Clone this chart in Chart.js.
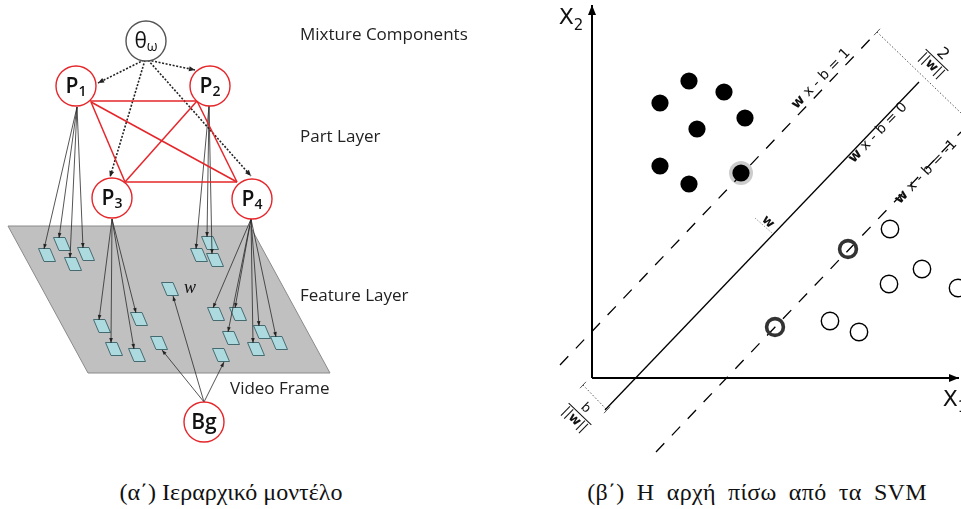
<!DOCTYPE html>
<html>
<head>
<meta charset="utf-8">
<script src="https://cdn.jsdelivr.net/npm/chart.js@4.4.1/dist/chart.umd.min.js"></script>
<style>
  html, body { margin: 0; padding: 0; background: #fff; width: 961px; height: 509px; overflow: hidden; }
  canvas { position: absolute; top: 0; }
  #model { left: 0; }
  #svm { left: 480px; }
  .cap { position: absolute; top: 477px; transform: translateX(-50%); font-family: "Liberation Serif", serif;
         font-size: 24px; color: #111; white-space: nowrap; line-height: 30px; }
</style>
</head>
<body>
<canvas id="model" width="480" height="460"></canvas>
<canvas id="svm" width="481" height="460"></canvas>
<div class="cap" style="left:231px">(α΄) Ιεραρχικό μοντέλο</div>
<div class="cap" style="left:757px; word-spacing:6px; letter-spacing:0.3px">(β΄) Η αρχή πίσω από τα SVM</div>
<script>
// ---------- hierarchical model (layout units on a 480 x 460 board) ----------
const nodeMain = ['θ', 'P', 'P', 'P', 'P', 'Bg'];
const nodeSub  = ['ω', '1', '2', '3', '4', ''];
const nodeX = [146, 76, 210, 112, 252, 204];
const nodeY = [41, 86, 86, 198, 199, 422];
const nodeRing = ['#555555', '#e5262a', '#e5262a', '#e5262a', '#e5262a', '#e5262a'];

// mixture component -> parts (dotted arrows): [x0, y0, x1, y1]
const mixtureArrows = [[144, 60, 98, 83], [148, 60, 195, 70], [145, 60, 110, 177], [148, 60, 251, 176]];
// pairwise part connections (red)
const partLinks = [[90, 101, 197, 101], [91, 102, 125, 182], [91, 102, 237, 182],
                   [197, 101, 125, 182], [197, 101, 237, 182], [125, 182, 237, 182]];

// video frame plane
const frameX = [8, 250, 330, 88, 8];
const frameY = [226, 226, 373, 373, 226];

// feature cells on the frame (centres)
const featX = [47, 62, 73, 86, 199, 210, 215, 170, 102, 139, 114, 137, 159, 216, 238, 231, 262, 279, 256, 221];
const featY = [255, 244, 264, 254, 255, 243, 260, 289, 326, 319, 349, 355, 343, 314, 314, 338, 332, 343, 349, 355];

// which feature cells each source points to, and where the arrows leave the source
const featureSources = [
  { from: [77, 107],  cells: [0, 1, 2, 3],             side: 'top' },
  { from: [209, 106], cells: [4, 5, 6],                side: 'top' },
  { from: [112, 219], cells: [8, 9, 10, 11],           side: 'top' },
  { from: [251, 219], cells: [13, 14, 15, 17, 16, 18], side: 'top' },
  { from: [204, 402], cells: [7, 12, 19],              side: 'bottom' }
];

const layerNames = ['Mixture Components', 'Part Layer', 'Feature Layer', 'Video Frame'];
const layerPos = [[300, 35], [300, 137], [300, 296], [230, 389]];

// ---------- SVM picture (feature space, origin at the axes corner) ----------
const classAX = [4.85, 6.6, 3.4, 7.65, 5.25, 3.4, 4.85];
const classAY = [14.85, 14.3, 13.75, 13.0, 12.45, 10.6, 9.7];
const supportAX = [7.45];
const supportAY = [10.25];
const classBX = [14.9, 16.5, 14.85, 18.3, 11.9, 13.35];
const classBY = [7.45, 5.45, 4.7, 4.5, 2.85, 2.3];
const supportBX = [12.8, 9.15];
const supportBY = [6.45, 2.55];

// hyperplane w·x − b = c, segment ends for c = 1, 0, −1
const planePlusX = [-1.6, 14.25];  const planePlusY = [0.65, 17.3];
const planeZeroX = [0.65, 16.35];  const planeZeroY = [-1.6, 14.8];
const planeMinusX = [3.2, 18.45];  const planeMinusY = [-3.7, 12.3];

// margin / offset dimension lines
const marginDimX = [14.25, 18.45]; const marginDimY = [17.3, 13.25];
const biasDimX = [-0.45, 0.75];    const biasDimY = [-0.35, -1.6];
const normalTickX = [8.15, 9.0];   const normalTickY = [8.0, 7.25];

const xAxisEnd = 18.35;
const yAxisEnd = 18.65;

// ---------- helpers ----------
const pts = (xs, ys) => xs.map((x, i) => ({ x, y: ys[i] }));

function featureCell() {
  const c = document.createElement('canvas');
  c.width = 20; c.height = 16;
  const g = c.getContext('2d');
  g.beginPath();
  g.moveTo(1.5, 1.5); g.lineTo(13, 1.5); g.lineTo(18.5, 14.5); g.lineTo(7, 14.5); g.closePath();
  g.fillStyle = '#acdadf'; g.fill();
  g.strokeStyle = '#456a70'; g.lineWidth = 1; g.stroke();
  return c;
}

const arrowHeads = {
  id: 'arrowHeads',
  afterDatasetsDraw(chart) {
    const ctx = chart.ctx;
    chart.data.datasets.forEach((ds, i) => {
      if (!ds.arrow) return;
      const el = chart.getDatasetMeta(i).data;
      const a = el[el.length - 2], b = el[el.length - 1];
      const ang = Math.atan2(b.y - a.y, b.x - a.x);
      ctx.save();
      ctx.translate(b.x, b.y); ctx.rotate(ang);
      ctx.beginPath();
      ctx.moveTo(0, 0); ctx.lineTo(-ds.arrow.len, ds.arrow.wid / 2); ctx.lineTo(-ds.arrow.len, -ds.arrow.wid / 2);
      ctx.closePath();
      ctx.fillStyle = ds.arrow.color; ctx.fill();
      ctx.restore();
    });
  }
};

function runsWidth(ctx, runs) {
  let w = 0;
  runs.forEach(r => { ctx.font = r.font; r.w = ctx.measureText(r.t).width; w += r.w; });
  return w;
}
function drawRuns(ctx, runs, x, y, align) {
  const total = runsWidth(ctx, runs);
  let cx = align === 'left' ? x : x - total / 2;
  runs.forEach(r => { ctx.font = r.font; ctx.fillText(r.t, cx, y + (r.dy || 0)); cx += r.w; });
}

function textLayer(labels) {
  return {
    id: 'textLayer',
    afterDatasetsDraw(chart) {
      const ctx = chart.ctx, sx = chart.scales.x, sy = chart.scales.y;
      labels.forEach(l => {
        ctx.save();
        ctx.translate(sx.getPixelForValue(l.x), sy.getPixelForValue(l.y));
        ctx.rotate((l.rot || 0) * Math.PI / 180);
        ctx.fillStyle = l.color || '#111';
        ctx.textBaseline = 'middle'; ctx.textAlign = 'left';
        if (l.frac) {
          const wn = runsWidth(ctx, l.frac.num), wd = runsWidth(ctx, l.frac.den);
          const half = Math.max(wn, wd) / 2 + 1;
          drawRuns(ctx, l.frac.num, 0, -8, 'center');
          drawRuns(ctx, l.frac.den, 0, 8, 'center');
          ctx.beginPath(); ctx.moveTo(-half, 0); ctx.lineTo(half, 0);
          ctx.strokeStyle = l.color || '#111'; ctx.lineWidth = 1; ctx.stroke();
        } else {
          drawRuns(ctx, l.runs, 0, 0, l.align);
        }
        ctx.restore();
      });
    }
  };
}

const hidden = { type: 'linear', display: false };
const baseOptions = (xmin, xmax, ymin, ymax, yRev) => ({
  responsive: false, animation: false, devicePixelRatio: 1, events: [],
  layout: { padding: 0, autoPadding: false },
  plugins: { legend: { display: false }, tooltip: { enabled: false } },
  scales: {
    x: { ...hidden, min: xmin, max: xmax },
    y: { ...hidden, min: ymin, max: ymax, reverse: yRev }
  }
});

function segment(x0, y0, x1, y1, style) {
  return Object.assign({
    type: 'line', data: [{ x: x0, y: y0 }, { x: x1, y: y1 }],
    showLine: true, pointRadius: 0, tension: 0, fill: false, clip: false
  }, style);
}

// ---------- model chart ----------
const modelSets = [];
modelSets.push({
  type: 'line', data: pts(frameX, frameY), showLine: true, fill: 'shape',
  backgroundColor: '#c0c0c0', borderColor: '#8a8a8a', borderWidth: 1, pointRadius: 0, tension: 0, order: 30, clip: false
});
modelSets.push({
  type: 'line', data: pts(featX, featY), showLine: false, pointStyle: featureCell(),
  pointRadius: 8, order: 25, clip: false
});
featureSources.forEach(src => {
  src.cells.forEach(k => {
    const tx = src.side === 'top' ? featX[k] - 3 : featX[k] + 3;
    const ty = src.side === 'top' ? featY[k] - 6 : featY[k] + 7;
    modelSets.push(segment(src.from[0], src.from[1], tx, ty, {
      borderColor: '#2a2a2a', borderWidth: 0.8, order: 20, arrow: { len: 5, wid: 3.6, color: '#222' }
    }));
  });
});
mixtureArrows.forEach(a => modelSets.push(segment(a[0], a[1], a[2], a[3], {
  borderColor: '#222', borderWidth: 1.6, borderDash: [2, 1.6], order: 20, arrow: { len: 6, wid: 5, color: '#222' }
})));
partLinks.forEach(a => modelSets.push(segment(a[0], a[1], a[2], a[3], {
  borderColor: '#e5262a', borderWidth: 1.5, order: 15
})));
modelSets.push({
  type: 'line', data: pts(nodeX, nodeY), showLine: false, pointRadius: 20, pointStyle: 'circle',
  backgroundColor: '#ffffff', borderColor: nodeRing, borderWidth: 1.4, order: 1, clip: false
});

const modelLabels = [];
nodeMain.forEach((m, i) => {
  const bold = i > 0 ? '600 ' : '';
  const runs = [{ t: m, font: bold + '21px "Open Sans"' }];
  if (nodeSub[i]) runs.push({ t: nodeSub[i], font: bold + '14px "Open Sans"', dy: 5 });
  modelLabels.push({ x: nodeX[i], y: nodeY[i] + 1, runs, color: '#111' });
});
layerNames.forEach((t, i) => modelLabels.push({
  x: layerPos[i][0], y: layerPos[i][1], runs: [{ t, font: '17px "Open Sans"' }], align: 'left', color: '#222'
}));
modelLabels.push({ x: 190, y: 288, runs: [{ t: 'w', font: 'italic 18px "Liberation Serif"' }], color: '#111' });

new Chart(document.getElementById('model'), {
  type: 'line',
  data: { datasets: modelSets },
  options: baseOptions(0, 480, 0, 460, true),
  plugins: [arrowHeads, textLayer(modelLabels)]
});

// ---------- SVM chart ----------
const svmSets = [];
const axisStyle = { borderColor: '#000', borderWidth: 2, order: 20, arrow: { len: 10, wid: 8, color: '#000' } };
svmSets.push(segment(0, 0, 0, yAxisEnd, axisStyle));
svmSets.push(segment(0, 0, xAxisEnd, 0, axisStyle));
svmSets.push(segment(planePlusX[0], planePlusY[0], planePlusX[1], planePlusY[1],
  { borderColor: '#000', borderWidth: 1.3, borderDash: [12, 11], order: 20 }));
svmSets.push(segment(planeZeroX[0], planeZeroY[0], planeZeroX[1], planeZeroY[1],
  { borderColor: '#000', borderWidth: 1.3, order: 20 }));
svmSets.push(segment(planeMinusX[0], planeMinusY[0], planeMinusX[1], planeMinusY[1],
  { borderColor: '#000', borderWidth: 1.3, borderDash: [12, 11], order: 20 }));
const dimStyle = { borderColor: '#555', borderWidth: 1, borderDash: [1.5, 2], order: 20 };
svmSets.push(segment(marginDimX[0], marginDimY[0], marginDimX[1], marginDimY[1], dimStyle));
svmSets.push(segment(biasDimX[0], biasDimY[0], biasDimX[1], biasDimY[1], dimStyle));
svmSets.push(segment(normalTickX[0], normalTickY[0], normalTickX[1], normalTickY[1],
  { borderColor: '#999', borderWidth: 1, borderDash: [1.5, 1.5], order: 20 }));
// short end marks of the dimension lines, parallel to the hyperplanes
const endMark = { borderColor: '#555', borderWidth: 1, order: 20 };
[[marginDimX[0], marginDimY[0]], [biasDimX[0], biasDimY[0]], [biasDimX[1], biasDimY[1]]].forEach(p =>
  svmSets.push(segment(p[0] - 0.15, p[1] - 0.16, p[0] + 0.15, p[1] + 0.16, endMark)));

svmSets.push({
  type: 'line', data: pts(supportAX, supportAY), showLine: false, pointRadius: 12, borderWidth: 0,
  backgroundColor: 'rgba(0,0,0,0.2)', order: 10, clip: false
});
svmSets.push({
  type: 'line', data: pts(classAX.concat(supportAX), classAY.concat(supportAY)), showLine: false,
  pointRadius: 8.6, borderWidth: 0, backgroundColor: '#000', order: 5, clip: false
});
svmSets.push({
  type: 'line', data: pts(classBX, classBY), showLine: false, pointRadius: 8.7,
  borderWidth: 1.4, borderColor: '#000', backgroundColor: 'rgba(0,0,0,0)', order: 5, clip: false
});
svmSets.push({
  type: 'line', data: pts(supportBX, supportBY), showLine: false, pointRadius: 8.4,
  borderWidth: 3.6, borderColor: '#333', backgroundColor: 'rgba(0,0,0,0)', order: 5, clip: false
});

const f14 = '14px "DejaVu Sans"', b14 = 'bold 14px "DejaVu Sans"', f13 = '13px "DejaVu Sans"', b13 = 'bold 13px "DejaVu Sans"';
const normRuns = () => [{ t: '||', font: f13 }, { t: 'w', font: b13 }, { t: '||', font: f13 }];
const svmLabels = [
  { x: 11.45, y: 14.95, rot: -46, runs: [{ t: 'w', font: b14 }, { t: ' x - b = 1', font: f14 }] },
  { x: 14.3, y: 12.25, rot: -46, runs: [{ t: 'w', font: b14 }, { t: ' x - b = 0', font: f14 }] },
  { x: 16.7, y: 10.3, rot: -46, runs: [{ t: 'w', font: b14 }, { t: ' x - b = -1', font: f14 }] },
  { x: 17.25, y: 15.9, rot: 44, frac: { num: [{ t: '2', font: '16px "DejaVu Sans"' }], den: normRuns() } },
  { x: -0.6, y: -1.8, rot: 44, frac: { num: [{ t: 'b', font: f13 }], den: normRuns() } },
  { x: 8.8, y: 7.8, rot: 44, runs: [{ t: 'w', font: b13 }] },
  { x: -1.05, y: 18.0, runs: [{ t: 'X', font: '22px "DejaVu Sans"' }, { t: '2', font: '15px "DejaVu Sans"', dy: 8 }] },
  { x: 18.15, y: -1.1, runs: [{ t: 'X', font: '22px "DejaVu Sans"' }, { t: '1', font: '15px "DejaVu Sans"', dy: 8 }] }
];

// origin of the feature space sits 112 px in and 378 px down; 20 px per unit
new Chart(document.getElementById('svm'), {
  type: 'line',
  data: { datasets: svmSets },
  options: baseOptions(-5.6, 18.45, -4.1, 18.9, false),
  plugins: [arrowHeads, textLayer(svmLabels)]
});
</script>
</body>
</html>
